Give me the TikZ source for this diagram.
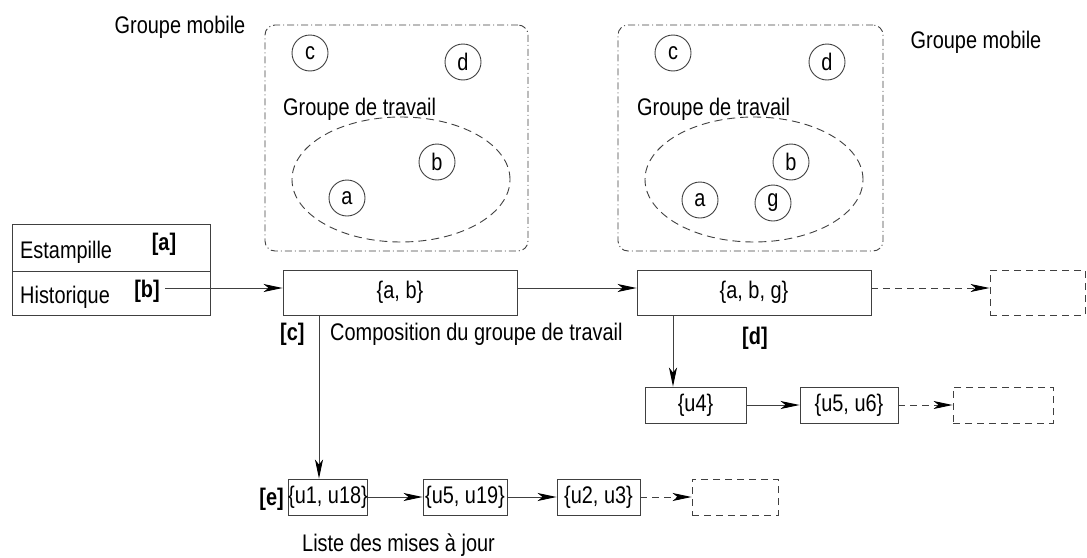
\documentclass[tikz,border=0pt]{standalone}
\usepackage{fontspec}
\setmainfont{Liberation Sans}[FakeStretch=0.83]
\usetikzlibrary{arrows.meta,shapes.geometric}
\begin{document}
\begin{tikzpicture}[x=1pt,y=-1pt,
  font=\fontsize{24}{28}\selectfont,
  ln/.style={draw=black!75, line width=0.9pt},
  box/.style={ln, rectangle, inner sep=0pt},
  dbox/.style={box, dash pattern=on 7pt off 5pt},
  grp/.style={ln, rectangle, rounded corners=10pt, inner sep=0pt, dash pattern=on 7pt off 3pt on 1pt off 3pt},
  ell/.style={ln, ellipse, inner sep=0pt, dash pattern=on 8pt off 5pt},
  mem/.style={ln, circle, minimum size=36pt, inner sep=0pt},
  arr/.style={draw=black!75, line width=0.9pt, -{Stealth[length=19pt,width=8pt,inset=5pt,fill=black,color=black]}},
  darr/.style={arr, dash pattern=on 7pt off 5pt},
  lbl/.style={inner sep=0pt, font=\fontsize{24}{28}\selectfont\bfseries}
]
\useasboundingbox (0,0) rectangle (1087,557);

% group boxes
\node[grp, minimum width=263pt, minimum height=226pt] (grpL) at (396.5,138) {};
\node[grp, minimum width=265pt, minimum height=226pt] (grpR) at (750.5,138) {};
\node[ell, minimum width=218pt, minimum height=125pt] (ellL) at (401,179.5) {};
\node[ell, minimum width=218pt, minimum height=125pt] (ellR) at (754,179.5) {};

\node[inner sep=0pt, anchor=base] (gmL) at (180,33) {Groupe mobile};
\node[inner sep=0pt, anchor=base] (gmR) at (976,48) {Groupe mobile};
\node[inner sep=0pt, anchor=base west] (gtL) at (283,115) {Groupe de travail};
\node[inner sep=0pt, anchor=base west] (gtR) at (637,115) {Groupe de travail};

% members
\node[mem] (cL) at (310,53) {c};
\node[mem] (dL) at (463,62) {d};
\node[mem] (bL) at (437,162) {b};
\node[mem] (aL) at (347,198) {a};
\node[mem] (cR) at (673,53) {c};
\node[mem] (dR) at (827,62) {d};
\node[mem] (bR) at (791,162) {b};
\node[mem] (aR) at (700,200) {a};
\node[mem] (gR) at (773,203) {g};

% stamp table
\node[box, minimum width=198pt, minimum height=47pt] (est) at (111,247.5) {};
\node[box, minimum width=198pt, minimum height=44pt] (hist) at (111,293) {};
\node[inner sep=0pt, anchor=base west] (estT) at (20,258) {Estampille};
\node[inner sep=0pt, anchor=base west] (histT) at (20,303) {Historique};
\node[lbl, anchor=base] (la) at (164,250) {[a]};
\node[lbl, anchor=base] (lb) at (147,297) {[b]};
\coordinate (b0) at (165,288);

% composition boxes
\node[box, minimum width=234pt, minimum height=45pt] (ab) at (400,292.5) {\{a, b\}};
\node[box, minimum width=234pt, minimum height=45pt] (abg) at (754,292.5) {\{a, b, g\}};
\node[dbox, minimum width=95pt, minimum height=45pt] (d1) at (1037.5,292.5) {};

\node[lbl, anchor=base west] (lc) at (280,340) {[c]};
\node[inner sep=0pt, anchor=base west] (comp) at (330,340) {Composition du groupe de travail};
\node[lbl, anchor=base west] (ld) at (742,344) {[d]};

% update lists
\node[box, minimum width=101pt, minimum height=36pt] (u4) at (695.5,405) {\{u4\}};
\node[box, minimum width=98pt, minimum height=36pt] (u56) at (849,405) {\{u5, u6\}};
\node[dbox, minimum width=100pt, minimum height=36pt] (d2) at (1003,405) {};

\node[box, minimum width=78pt, minimum height=36pt] (u118) at (328,497) {\{u1, u18\}};
\node[box, minimum width=84pt, minimum height=36pt] (u519) at (465,497) {\{u5, u19\}};
\node[box, minimum width=83pt, minimum height=36pt] (u23) at (598.5,497) {\{u2, u3\}};
\node[dbox, minimum width=86pt, minimum height=36pt] (d3) at (735,497) {};
\node[lbl, anchor=base east] (le) at (284,505) {[e]};
\node[inner sep=0pt, anchor=base west] (liste) at (302,551) {Liste des mises à jour};

% connectors
\draw[arr] (b0) -- (b0 -| ab.west);
\draw[arr] ([yshift=4.5pt]ab.east) -- ([yshift=4.5pt]abg.west);
\draw[darr] ([yshift=4.5pt]abg.east) -- ([yshift=4.5pt]d1.west);
\draw[arr] ([xshift=-81pt]ab.south) -- ([xshift=-9pt]u118.north);
\draw[arr] ([xshift=-81pt]abg.south) -- ([xshift=-22.5pt]u4.north);
\draw[arr] (u4) -- (u56);
\draw[darr] (u56) -- (d2);
\draw[arr] (u118) -- (u519);
\draw[arr] (u519) -- (u23);
\draw[darr] (u23) -- (d3);
\end{tikzpicture}
\end{document}
